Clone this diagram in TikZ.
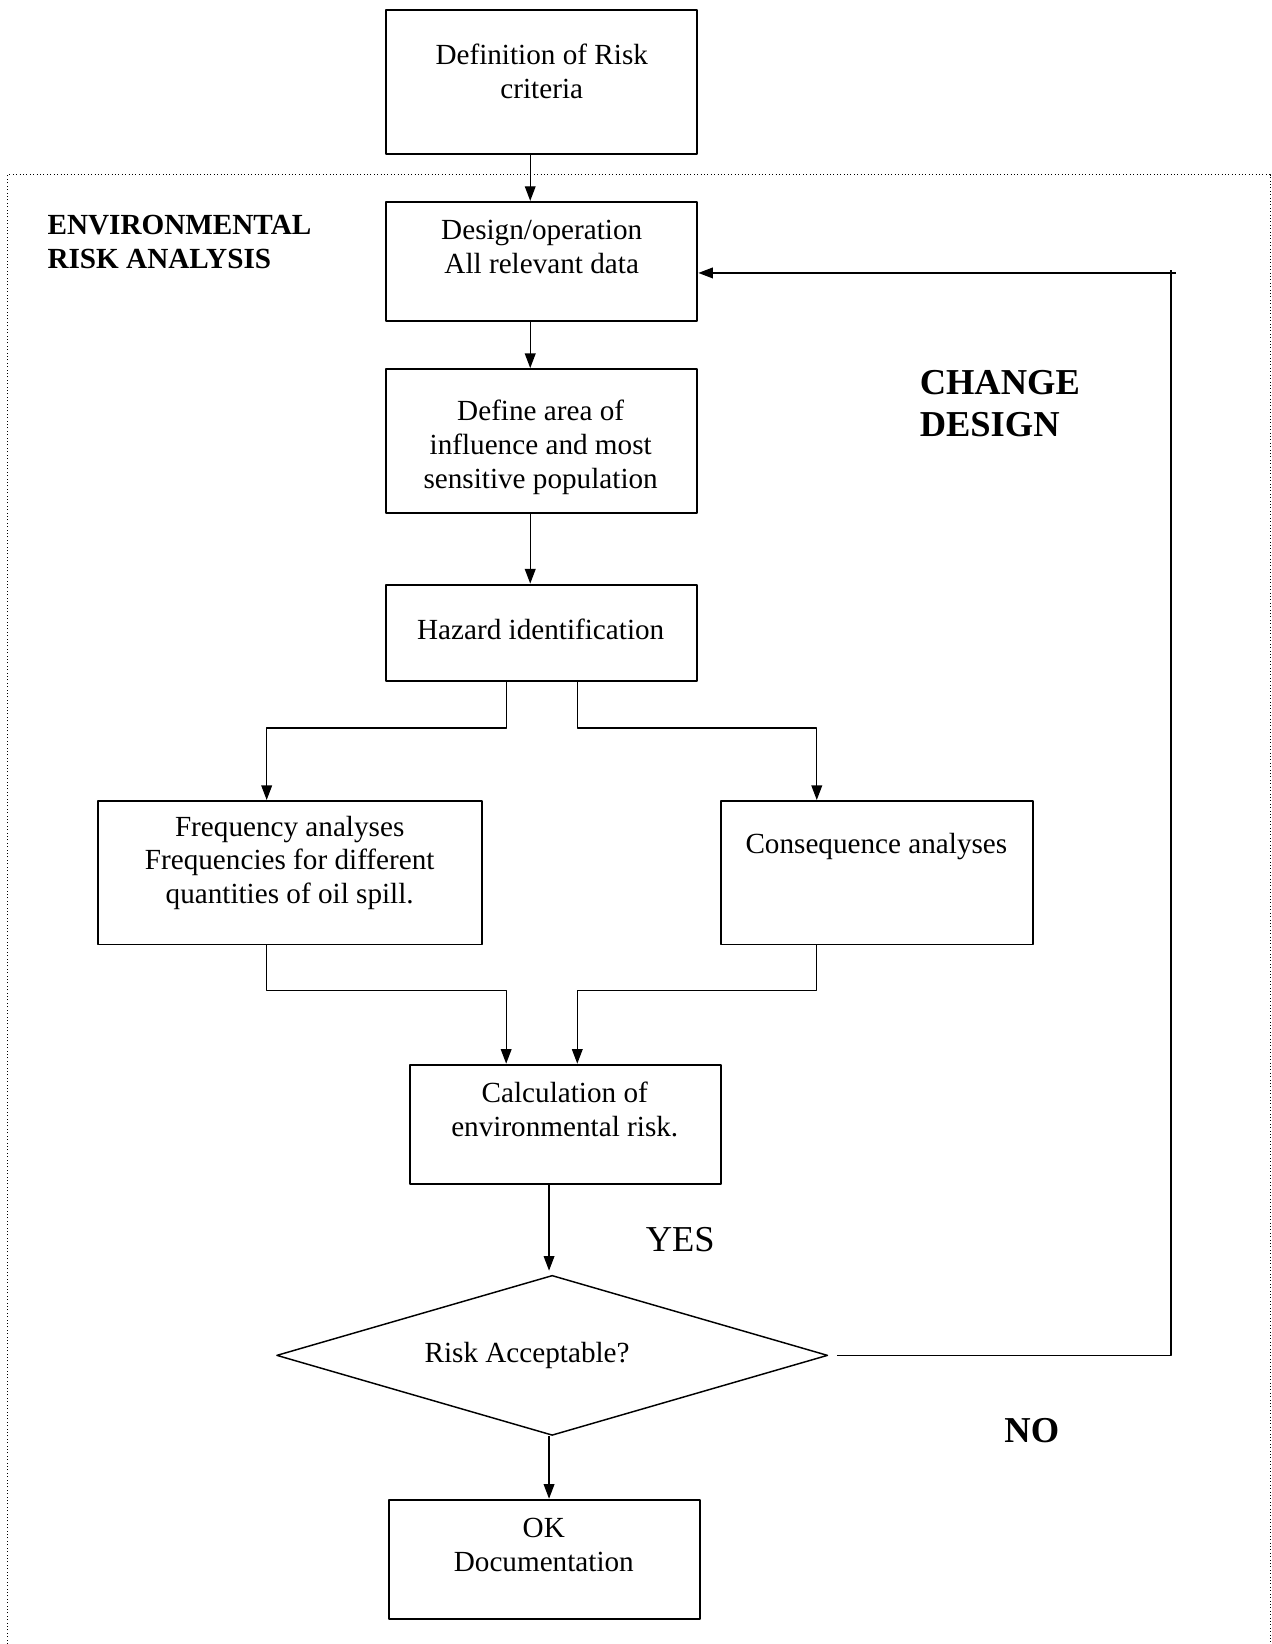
\documentclass[tikz,border=0pt]{standalone}
\usepackage{fontspec}
\setmainfont{Liberation Serif}
\usetikzlibrary{arrows.meta,calc,shapes.geometric}
\begin{document}
\begin{tikzpicture}[x=0.43pt, y=-0.43pt, font=\fontsize{12}{13.9}\selectfont, line join=round, >={Triangle[length=6pt,width=4.4pt]},
	box/.style={draw, line width=.8pt, minimum width=128pt, inner sep=0pt},
	txt/.style={align=center, inner sep=0pt},
	link/.style={line width=.55pt},
	big/.style={font=\fontsize{15}{17.2}\selectfont, inner sep=0pt, anchor=west, align=left},
	bigb/.style={big, font=\fontsize{15}{17.2}\selectfont\bfseries}]
		\useasboundingbox (0,0) rectangle (1216,1572);
		% frame of the analysis
		\draw[densely dotted, line width=.4pt] (7.5,1572) |- (1214.5,167) -- (1214.5,1572);
		% boxes
		\node[box, minimum height=59pt] (def) at (518,78.5) {};
		\node[box, minimum height=49pt] (design) at (518,250) {};
		\node[box, minimum height=59pt] (define) at (518,421.5) {};
		\node[box, minimum height=39.6pt] (hz) at (518,605) {};
		\node[box, minimum height=59pt, minimum width=157.8pt] (freq) at (277.5,834.5) {};
		\node[box, minimum height=59pt] (cons) at (838.5,834.5) {};
		\node[box, minimum height=49pt] (calc) at (540.5,1075) {};
		\node[draw, diamond, line width=.6pt, inner sep=0pt, minimum width=226.6pt, minimum height=65.8pt] (dec) at (528,1296) {};
		\node[box, minimum height=49pt] (ok) at (520.5,1491) {};
		% texts
		\node[txt] (defT) at (518,68) {Definition of Risk\\criteria};
		\node[txt] (designT) at (518,236) {Design/operation\\All relevant data};
		\node[txt] (defineT) at (517,428) {Define area of\\influence and most\\sensitive population};
		\node[txt] (hzT) at (517,602) {Hazard identification};
		\node[txt] (freqT) at (277,825) {Frequency analyses\\Frequencies for different\\quantities of oil spill.};
		\node[txt] (consT) at (838,809) {Consequence analyses};
		\node[txt] (calcT) at (540,1060.5) {Calculation of\\environmental risk.};
		\node[txt] (decT) at (504,1296) {Risk Acceptable?};
		\node[txt] (okT) at (520,1477.5) {OK\\Documentation};
		\node[anchor=west, align=left, inner sep=0pt, font=\fontsize{12}{13.9}\selectfont\bfseries] (era) at (45,231) {ENVIRONMENTAL\\RISK ANALYSIS};
		\node[bigb] (chg) at (879,386) {CHANGE\\DESIGN};
		\node[big] (yes) at (617,1185) {YES};
		\node[bigb] (no) at (960,1368) {NO};
		% connectors
		\draw[link,->] ($(def.south)+(-11,0)$) -- ($(design.north)+(-11,0)$);
		\draw[link,->] ($(design.south)+(-11,0)$) -- ($(define.north)+(-11,0)$);
		\draw[link,->] ($(define.south)+(-11,0)$) -- ($(hz.north)+(-11,0)$);
		\path (484,696) coordinate (fl) (552,696) coordinate (fr)
		(484,947) coordinate (jl) (552,947) coordinate (jr)
		(525,1215) coordinate (mid) (1120,261) coordinate (back);
		\draw[link,->] (hz.south -| fl) -- (fl) -| ($(freq.north)+(-22.5,0)$);
		\draw[link,->] (hz.south -| fr) -- (fr) -| ($(cons.north)+(-57.5,0)$);
		\draw[link,->] ($(freq.south)+(-22.5,0)$) |- (jl) -- (jl |- calc.north);
		\draw[link,->] ($(cons.south)+(-57.5,0)$) |- (jr) -- (jr |- calc.north);
		\draw[link,->] (calc.south -| mid) -- (mid);
		\draw[link,->] (dec.south -| mid) -- (mid |- ok.north);
		\draw[line width=.7pt] ($(dec.east)+(8,0)$) -| ($(back)+(0,-3)$);
		\draw[line width=.7pt,->] ($(back)+(4,0)$) -- (back -| design.east);
\end{tikzpicture}
\end{document}
